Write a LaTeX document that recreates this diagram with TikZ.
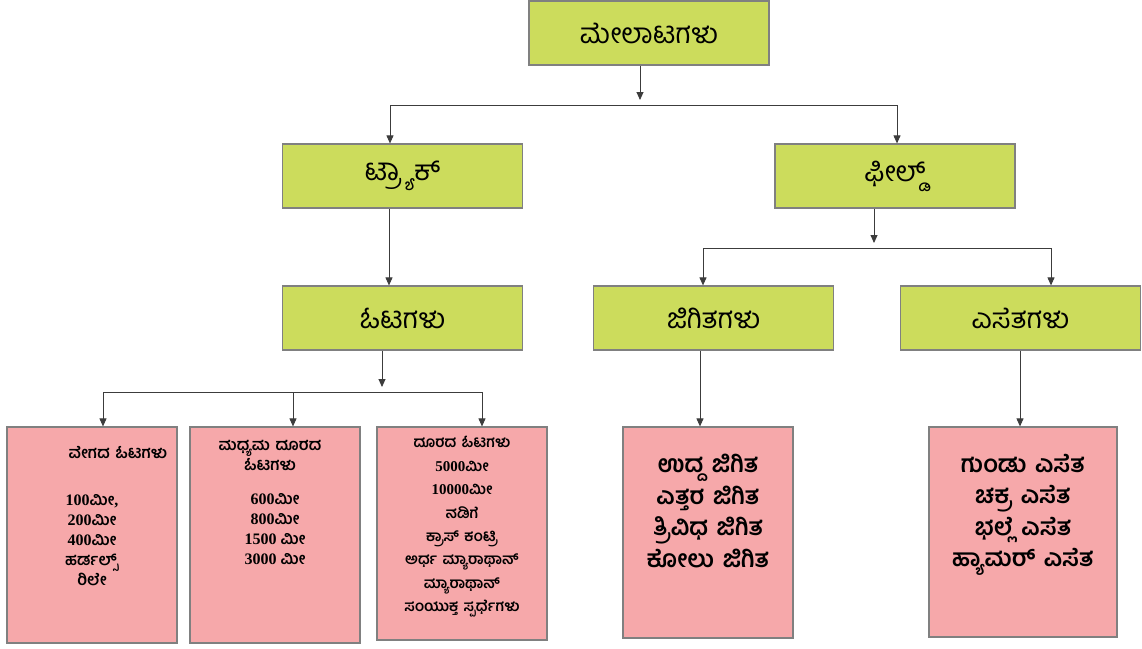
\documentclass[tikz,border=0pt]{standalone}
\usepackage{fontspec}
\usetikzlibrary{arrows.meta}
\newfontfamily\kn[Script=Kannada]{Hind Mysuru}
\newfontfamily\tnr{Liberation Serif}
\definecolor{gfill}{RGB}{204,220,92}
\definecolor{pfill}{RGB}{246,168,170}
\definecolor{bord}{RGB}{128,128,128}
\definecolor{lin}{RGB}{60,60,60}
\newcommand{\nm}[1]{{\tnr\bfseries #1}}
\newcommand{\ws}{\hspace{0.35em}}
\tikzset{
  gbox/.style={draw=bord, line width=1.2pt, fill=gfill, minimum width=240pt, minimum height=64pt, inner sep=0pt, font=\kn\fontsize{28}{32}\selectfont},
  pbox/.style={draw=bord, line width=1.2pt, fill=pfill, inner sep=0pt},
  ptext/.style={align=center, inner sep=0pt, font=\kn\bfseries\fontsize{16}{20}\selectfont},
  btext/.style={align=center, inner sep=0pt, font=\kn\bfseries\fontsize{24}{31.5}\selectfont},
  conn/.style={draw=lin, line width=0.9pt},
  arr/.style={conn, -{Triangle[width=7pt,length=8pt]}}
}
\begin{document}
\begin{tikzpicture}[x=1pt,y=-1pt]
\useasboundingbox[fill=white] (0,0) rectangle (1142,648);
% green boxes
\node[gbox] (top) at (649,33) {ಮೇಲಾಟಗಳು};
\node[gbox] (track) at (402.5,176) {ಟ್ರ್ಯಾಕ್};
\node[gbox] (field) at (895,176) {ಫೀಲ್ಡ್};
\node[gbox] (ota) at (402.5,318) {ಓಟಗಳು};
\node[gbox] (jig) at (713.5,318) {ಜಿಗಿತಗಳು};
\node[gbox] (ese) at (1020.5,318) {ಎಸೆತಗಳು};
% pink boxes
\node[pbox, minimum width=170pt, minimum height=216pt] (p1) at (92,535) {};
\node[pbox, minimum width=170pt, minimum height=216pt] (p2) at (275,535) {};
\node[pbox, minimum width=170pt, minimum height=213pt] (p3) at (462,533.5) {};
\node[pbox, minimum width=170pt, minimum height=211pt] (p4) at (708,532.5) {};
\node[pbox, minimum width=188pt, minimum height=210pt] (p5) at (1023,532) {};
% pink texts
\node[ptext] (p1h) at (118,452) {ವೇಗದ\ws ಓಟಗಳು};
\node[ptext] (p1t) at (92,540) {\nm{100}ಮೀ\nm{,}\\ \nm{200}ಮೀ\\ \nm{400}ಮೀ\\ ಹರ್ಡಲ್ಸ್\\ ರಿಲೇ};
\node[ptext] (p2h) at (270,455) {ಮಧ್ಯಮ\ws ದೂರದ\\ ಓಟಗಳು};
\node[ptext] (p2t) at (275,529) {\nm{600}ಮೀ\\ \nm{800}ಮೀ\\ \nm{1500} ಮೀ\\ \nm{3000} ಮೀ};
\node[ptext, font=\kn\bfseries\fontsize{15}{23.4}\selectfont] (p3t) at (462,527) {ದೂರದ\ws ಓಟಗಳು\\ \nm{5000}ಮೀ\\ \nm{10000}ಮೀ\\ ನಡಿಗೆ\\ ಕ್ರಾಸ್\ws ಕಂಟ್ರಿ\\ ಅರ್ಧ\ws ಮ್ಯಾರಾಥಾನ್\\ ಮ್ಯಾರಾಥಾನ್\\ ಸಂಯುಕ್ತ\ws ಸ್ಪರ್ಧೆಗಳು};
\node[btext] (p4t) at (708,511) {ಉದ್ದ\ws ಜಿಗಿತ\\ ಎತ್ತರ\ws ಜಿಗಿತ\\ ತ್ರಿವಿಧ\ws ಜಿಗಿತ\\ ಕೋಲು\ws ಜಿಗಿತ};
\node[btext] (p5t) at (1023,515) {ಗುಂಡು\ws ಎಸೆತ\\ ಚಕ್ರ\ws ಎಸೆತ\\ ಭಲ್ಲೆ\ws ಎಸೆತ\\ ಹ್ಯಾಮರ್\ws ಎಸೆತ};
% bus coordinates
\coordinate (ba) at (640,105);
\coordinate (bal) at (390,105);
\coordinate (bar) at (897,105);
\coordinate (bf) at (874,248);
\coordinate (bfl) at (703,248);
\coordinate (bfr) at (1051,248);
\coordinate (bo) at (382,392);
\coordinate (bo1) at (103,392);
\coordinate (bo2) at (293,392);
\coordinate (bo3) at (482,392);
% connectors
\draw[arr] (ba |- top.south) -- ([yshift=5pt]ba);
\draw[conn] (bal) -- (bar);
\draw[arr] (bal) -- (bal |- track.north);
\draw[arr] (bar) -- (bar |- field.north);
\draw[arr] ([xshift=-13.5pt]track.south) -- ([xshift=-13.5pt]ota.north);
\draw[arr] (bf |- field.south) -- ([yshift=5pt]bf);
\draw[conn] (bfl) -- (bfr);
\draw[arr] (bfl) -- (bfl |- jig.north);
\draw[arr] (bfr) -- (bfr |- ese.north);
\draw[arr] (bo |- ota.south) -- ([yshift=5pt]bo);
\draw[conn] (bo1) -- (bo3);
\draw[arr] (bo1) -- (bo1 |- p1.north);
\draw[arr] (bo2) -- (bo2 |- p2.north);
\draw[arr] (bo3) -- (bo3 |- p3.north);
\draw[arr] ([xshift=-13.5pt]jig.south) -- ([xshift=-13.5pt]jig.south |- p4.north);
\draw[arr] ([xshift=-0.5pt]ese.south) -- ([xshift=-0.5pt]ese.south |- p5.north);
\end{tikzpicture}
\end{document}
